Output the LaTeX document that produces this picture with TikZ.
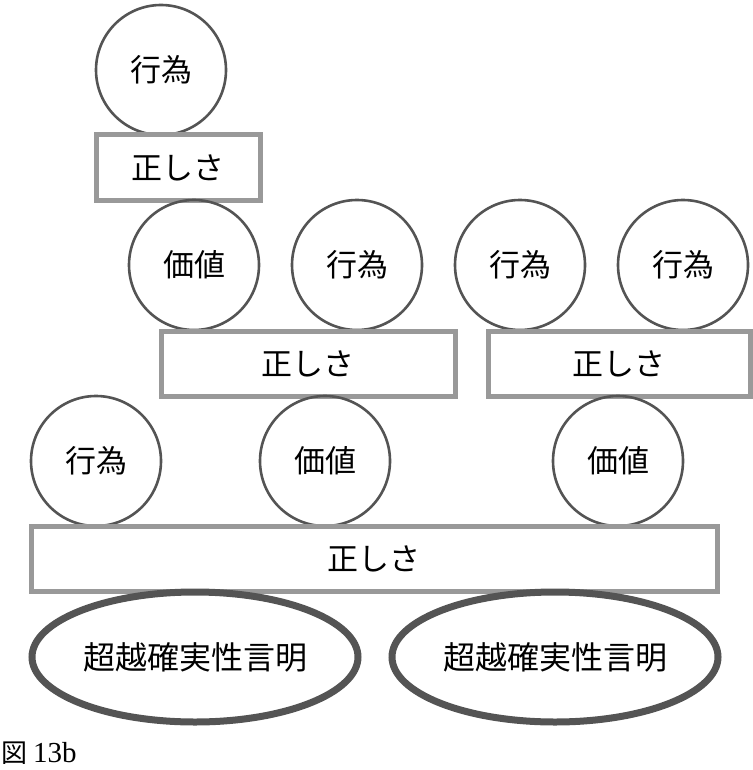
\documentclass[tikz,border=0pt]{standalone}
\usepackage{fontspec}
\setmainfont{Noto Sans CJK JP}
\newfontfamily\capfont{Liberation Serif}
\newfontfamily\capjp{Noto Sans CJK JP}
\usetikzlibrary{shapes.geometric}
\tikzset{
  act/.style={circle, draw=black!67, line width=2.6pt, minimum size=130pt, inner sep=0pt, font=\fontsize{31}{33}\selectfont},
  rightbox/.style={rectangle, draw=black!40, line width=5pt, inner sep=0pt, font=\fontsize{31}{33}\selectfont},
  base/.style={ellipse, draw=black!67, line width=7pt, inner sep=0pt, minimum width=326pt, minimum height=130pt, font=\fontsize{32}{34}\selectfont}
}
\begin{document}
\begin{tikzpicture}[x=1pt,y=-1pt]
\useasboundingbox (0,0) rectangle (752,770);
% top tower
\node[act] (a1) at (161,70) {行為};
\node[rightbox, minimum width=164pt, minimum height=65pt] (r1) at (178,167.5) {正しさ};
% second row
\node[act] (v2) at (194,265) {価値};
\node[act] (a2) at (357,265) {行為};
\node[act] (a3) at (520,265) {行為};
\node[act] (a4) at (683,265) {行為};
\node[rightbox, minimum width=294pt, minimum height=65pt] (r2) at (308,363.5) {正しさ};
\node[rightbox, minimum width=262pt, minimum height=65pt] (r3) at (619,363.5) {正しさ};
% third row
\node[act] (a5) at (96,461) {行為};
\node[act] (v3) at (325,461) {価値};
\node[act] (v4) at (618,461) {価値};
\node[rightbox, minimum width=686pt, minimum height=65pt] (r4) at (374,558.5) {正しさ};
% foundations
\node[base] (e1) at (195,657) {超越確実性言明};
\node[base] (e2) at (555,657) {超越確実性言明};
% caption
\node[anchor=base west, inner sep=0pt] (cap) at (1,762) {\capjp\fontsize{26}{28}\selectfont 図\hspace{6pt}\capfont\fontsize{29}{31}\selectfont 13b};
\end{tikzpicture}
\end{document}
